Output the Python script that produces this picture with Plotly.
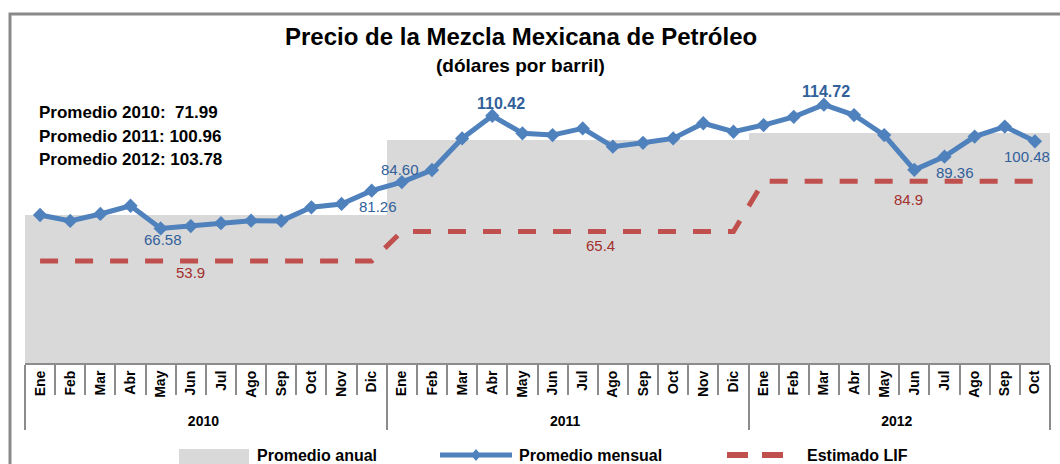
import plotly.graph_objects as go

# ---------------- data ----------------
years = ["2010"] * 12 + ["2011"] * 12 + ["2012"] * 10
months = ["Ene", "Feb", "Mar", "Abr", "May", "Jun", "Jul", "Ago", "Sep", "Oct", "Nov", "Dic"] * 2 + \
         ["Ene", "Feb", "Mar", "Abr", "May", "Jun", "Jul", "Ago", "Sep", "Oct"]

promedio_mensual = [71.8, 69.5, 72.2, 75.4, 66.58, 67.5, 68.6, 69.6, 69.5, 74.8, 76.1, 81.26,
                    84.60, 89.3, 101.6, 110.42, 103.6, 102.9, 105.5, 98.4, 99.9, 101.6, 107.5, 104.2,
                    106.8, 110.0, 114.72, 110.7, 102.9, 89.36, 94.5, 102.3, 106.2, 100.48]
promedio_anual_por_anio = {"2010": 71.99, "2011": 100.96, "2012": 103.78}
estimado_lif_por_anio = {"2010": 53.9, "2011": 65.4, "2012": 84.9}

promedio_anual = [promedio_anual_por_anio[y] for y in years]
estimado_lif = [estimado_lif_por_anio[y] for y in years]

# labelled points: (index, text, xshift, yshift, bold)
etiquetas_mensual = [(4, "66.58", 2, -11, False), (11, "81.26", 6, -16, False),
                     (12, "84.60", -2, 13, False), (15, "110.42", 9, 12, True),
                     (26, "114.72", 2, 13, True), (29, "89.36", 41, -3, False),
                     (33, "100.48", -8, -15, False)]
etiquetas_lif = [(5.0, "53.9", -12), (18.6, "65.4", -14), (28.8, "84.9", -18)]

titulo = "Precio de la Mezcla Mexicana de Petróleo"
subtitulo = "(dólares por barril)"
textos_promedio = ["Promedio 2010:\u00a0\u00a071.99", "Promedio 2011:\u00a0100.96", "Promedio 2012:\u00a0103.78"]

# ---------------- geometry helpers ----------------
W, H = 1060, 464
ML, MR, MT, MB = 25, 10, 40, 101
PW, PH = W - ML - MR, H - MT - MB


def px(xp):
    return (xp - ML) / PW


def py(yp):
    return (H - MB - yp) / PH


BLUE = "#4F81BD"
BLUE_TXT = "#31609A"
RED = "#C0504D"
RED_TXT = "#A3302E"
GRAY = "#D9D9D9"
FONT = "Liberation Sans, Arial, sans-serif"

xcat = [years, months]

fig = go.Figure()
fig.add_trace(go.Bar(x=xcat, y=promedio_anual, marker=dict(color=GRAY, line=dict(width=0)),
                     name="Promedio anual", hoverinfo="y"))
fig.add_trace(go.Scatter(x=xcat, y=estimado_lif, mode="lines", name="Estimado LIF",
                         line=dict(color=RED, width=5, dash="18px,17px")))
fig.add_trace(go.Scatter(x=xcat, y=promedio_mensual, mode="lines+markers", name="Promedio mensual",
                         line=dict(color=BLUE, width=5),
                         marker=dict(symbol="diamond", size=11, color=BLUE)))

ann = []
for i, t, xs, ys, b in etiquetas_mensual:
    ann.append(dict(x=i, y=promedio_mensual[i], xref="x", yref="y", text=f"<b>{t}</b>" if b else t,
                    showarrow=False, xshift=xs, yshift=ys,
                    font=dict(size=16 if b else 15, color=BLUE_TXT, family=FONT)))
for xi, t, ys in etiquetas_lif:
    yv = estimado_lif[int(round(xi))]
    ann.append(dict(x=xi, y=yv, xref="x", yref="y", text=t, showarrow=False, yshift=ys,
                    font=dict(size=15, color=RED_TXT, family=FONT)))

ann.append(dict(x=px(521), y=py(36), xref="paper", yref="paper", text=f"<b>{titulo}</b>",
                showarrow=False, yanchor="middle", font=dict(size=24, color="black", family=FONT)))
ann.append(dict(x=px(520), y=py(65), xref="paper", yref="paper", text=f"<b>{subtitulo}</b>",
                showarrow=False, yanchor="middle", font=dict(size=19, color="black", family=FONT)))
for k, t in enumerate(textos_promedio):
    ann.append(dict(x=px(37), y=py(113 + 23 * k), xref="paper", yref="paper", text=f"<b>{t}</b>",
                    showarrow=False, xanchor="left", yanchor="middle",
                    font=dict(size=17, color="black", family=FONT)))

# custom legend
LEGY = 455
leg_items = [(255, "Promedio anual"), (517, "Promedio mensual"), (805, "Estimado LIF")]
for xl, t in leg_items:
    ann.append(dict(x=px(xl), y=py(LEGY), xref="paper", yref="paper", text=f"<b>{t}</b>",
                    showarrow=False, xanchor="left", yanchor="middle",
                    font=dict(size=16, color="black", family=FONT)))

shapes = [
    # frame
    dict(type="rect", xref="paper", yref="paper", x0=px(10), x1=px(1075), y0=py(480), y1=py(14),
         line=dict(color="#8A8A8A", width=3), fillcolor="rgba(0,0,0,0)", layer="above"),
    # legend symbols
    dict(type="rect", xref="paper", yref="paper", x0=px(179), x1=px(249), y0=py(466), y1=py(449),
         line=dict(width=0), fillcolor=GRAY),
    dict(type="line", xref="paper", yref="paper", x0=px(440), x1=px(512), y0=py(LEGY), y1=py(LEGY),
         line=dict(color=BLUE, width=5)),
    dict(type="path", xref="paper", yref="paper",
         path=f"M {px(476)},{py(LEGY-6)} L {px(481)},{py(LEGY)} L {px(476)},{py(LEGY+6)} L {px(471)},{py(LEGY)} Z",
         fillcolor=BLUE, line=dict(width=0)),
    dict(type="line", xref="paper", yref="paper", x0=px(727), x1=px(748), y0=py(LEGY), y1=py(LEGY),
         line=dict(color=RED, width=6)),
    dict(type="line", xref="paper", yref="paper", x0=px(762), x1=px(783), y0=py(LEGY), y1=py(LEGY),
         line=dict(color=RED, width=6)),
]

fig.update_layout(
    width=W, height=H, margin=dict(l=ML, r=MR, t=MT, b=MB, autoexpand=False),
    paper_bgcolor="white", plot_bgcolor="white", showlegend=False,
    bargap=0, annotations=ann, shapes=shapes,
    font=dict(family=FONT, color="black"),
)
fig.update_xaxes(type="multicategory", tickangle=-90, showline=True, linecolor="#8C8C8C", linewidth=2,
                 ticks="outside", ticklen=30, tickcolor="#8C8C8C", tickwidth=2, automargin=False,
                 dividercolor="#8C8C8C", dividerwidth=2, showgrid=False,
                 tickfont=dict(size=14, family=FONT, color="black", weight="bold"), range=[-0.5, 33.5])
fig.update_yaxes(visible=False, range=[14.2, 139.9], showgrid=False, zeroline=False, automargin=False)

fig.write_html("out.html", config={"displayModeBar": False},
               post_script="document.body.style.margin='0';document.body.style.overflow='hidden';")
